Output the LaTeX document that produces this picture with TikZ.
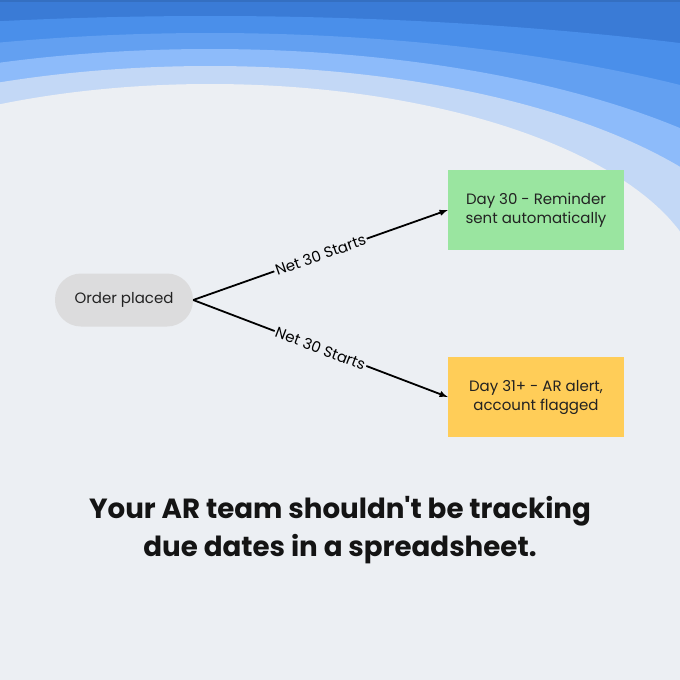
\documentclass[tikz,border=0pt]{standalone}
\usepackage{fontspec}
\setmainfont{Poppins}
\usepackage{tikz}
\usepackage{xcolor}
\usetikzlibrary{arrows.meta}

\definecolor{bgray}{HTML}{ECEFF3}
\definecolor{bandA}{HTML}{3A7BD6}
\definecolor{bandB}{HTML}{4A8FEA}
\definecolor{bandC}{HTML}{63A0F1}
\definecolor{bandD}{HTML}{8DBBFA}
\definecolor{bandE}{HTML}{C3D8F6}
\definecolor{pillgray}{HTML}{DCDCDD}
\definecolor{okgreen}{HTML}{9AE5A0}
\definecolor{warnyellow}{HTML}{FFCD58}
\definecolor{inkdark}{HTML}{222222}

% one band below an elliptic edge: colour, half width, half height
\newcommand{\skyband}[3]{%
  \fill[#1] plot[domain=-5:685, samples=90] (\x,{297-#3*sqrt(1-((\x-210)/#2)^2)})
    -- (685,685) -- (-5,685) -- cycle;}

\tikzset{
  pill/.style={draw=none, fill=pillgray, rounded corners=26pt, minimum width=138pt,
    minimum height=53pt, font=\fontsize{15}{18}\selectfont, text=inkdark},
  stepbox/.style={draw=none, minimum width=176pt, minimum height=80pt, align=center,
    font=\fontsize{15}{19}\selectfont, text=inkdark},
  flow/.style={-latex, line width=1.8pt, black},
  netlabel/.style={midway, sloped, fill=bgray, inner sep=1.5pt,
    font=\fontsize{15}{17}\selectfont}
}

\begin{document}
\begin{tikzpicture}[x=1pt, y=-1pt]
                \useasboundingbox (0,0) rectangle (680,680);
                \begin{scope}
                \clip (0,0) rectangle (680,680);
                % blue bands on top, gray below
                \fill[bandA] (0,0) rectangle (680,680);
                \fill[black!10!bandA] (0,0) rectangle (680,1.5);
                \skyband{bandB}{1098}{281}
                \skyband{bandC}{789}{264}
                \skyband{bandD}{642}{248}
                \skyband{bandE}{569}{231}
                \skyband{bgray}{494}{213}
                \end{scope}

                \node[pill] (order) at (124,300) {Order placed};
                \node[stepbox, fill=okgreen] (day30) at (536,210) {Day 30 - Reminder\\sent automatically};
                \node[stepbox, fill=warnyellow] (day31) at (536,397) {Day 31+ - AR alert,\\account flagged};

                \draw[flow] (order.east) -- (day30.west) node[netlabel]{Net 30 Starts};
                \draw[flow] (order.east) -- (day31.west) node[netlabel]{Net 30 Starts};

                \node[font=\fontsize{27.7}{38}\selectfont\bfseries, text=black!92, align=center] (slogan) at (340,530)
                  {Your AR team shouldn\textquotesingle t be tracking\\due dates in a spreadsheet.};
            \end{tikzpicture}
\end{document}
